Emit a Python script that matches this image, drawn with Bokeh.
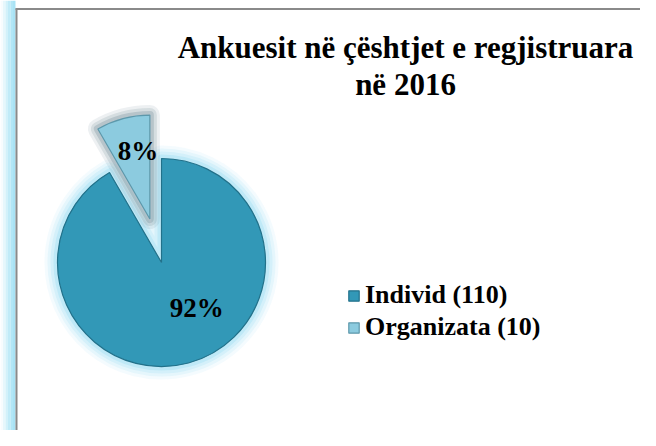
import math
from bokeh.plotting import figure
from bokeh.models import ColumnDataSource, Range1d, Legend, LegendItem
from bokeh.core.properties import value
from bokeh.embed import file_html
from bokeh.resources import INLINE

# ---- data ----
categories = ["Individ", "Organizata"]
counts = [110, 10]
title_lines = ["Ankuesit në çështjet e regjistruara", "në 2016"]

# ---- styles ----
slice_colors = ["#3298b7", "#8ccbdf"]
slice_lines = ["#22718a", "#5d98ab"]
explode = [0, 45]
FONT = "Liberation Serif"

W, H = 640, 430


def Y(py):
    return H - py


p = figure(width=W, height=H, output_backend="svg", toolbar_location=None,
           x_range=Range1d(0, W), y_range=Range1d(0, H),
           x_axis_location=None, y_axis_location=None, min_border=0)
p.grid.visible = False
p.outline_line_color = None
p.background_fill_color = "white"

# left decorative strip and frame lines
strip_cols = ["#f7fcfe", "#e6f7fc", "#d2f1fa", "#c0ebf8", "#b2e6f6", "#a9e3f5"]
n = len(strip_cols)
p.quad(left=[i * 15 / n for i in range(n)], right=[(i + 1) * 15 / n for i in range(n)],
       bottom=0, top=H, fill_color=strip_cols, line_color=None)
p.segment(x0=[16, 15], y0=[Y(8), Y(8.5)], x1=[16, W], y1=[0, Y(8.5)],
          line_color="#8a8a8a", line_width=2)

# ---- pie geometry ----
cx, cy, R = 161, Y(262), 104
total = sum(counts)
a0s, a1s, mids = [], [], []
acc = 0
for v in counts:
    a0 = math.pi / 2 - acc / total * 2 * math.pi
    a1 = a0 - v / total * 2 * math.pi
    a0s.append(a0); a1s.append(a1); mids.append((a0 + a1) / 2)
    acc += v
xs = [cx + e * math.cos(m) for e, m in zip(explode, mids)]
ys = [cy + e * math.sin(m) for e, m in zip(explode, mids)]

src = ColumnDataSource(dict(x=xs, y=ys, start=a1s, end=a0s, color=slice_colors,
                            line=slice_lines,
                            label=[f"{c} ({v})" for c, v in zip(categories, counts)]))

# glow around the big slice
big = ColumnDataSource(dict(x=xs[:1], y=ys[:1], start=a1s[:1], end=a0s[:1]))
for lw, al in [(26, 0.10), (20, 0.14), (14, 0.2), (8, 0.3)]:
    p.wedge(x="x", y="y", radius=R, start_angle="start", end_angle="end", source=big,
            fill_color=None, line_color="#8fdcf3", line_width=lw, line_alpha=al,
            line_join="round")
# shadow around the small slice
small = ColumnDataSource(dict(x=xs[1:], y=ys[1:], start=a1s[1:], end=a0s[1:]))
for lw, al in [(20, 0.10), (14, 0.15), (8, 0.22)]:
    p.wedge(x="x", y="y", radius=R, start_angle="start", end_angle="end", source=small,
            fill_color=None, line_color="#4f6f7c", line_width=lw, line_alpha=al,
            line_join="round")

r = p.wedge(x="x", y="y", radius=R, start_angle="start", end_angle="end", source=src,
            fill_color="color", line_color="line", line_width=1.2)

# percentage labels
pcts = [f"{round(v / total * 100)}%" for v in counts]
lab_r = [0.55, 0.66]
lab_a = [math.radians(-52), math.radians(100)]
lx = [x + f * R * math.cos(a) for x, f, a in zip(xs, lab_r, lab_a)]
ly = [y + f * R * math.sin(a) for y, f, a in zip(ys, lab_r, lab_a)]
p.text(x=lx, y=ly, text=pcts, text_align="center", text_baseline="middle",
       text_font=value(FONT), text_font_style="bold", text_font_size="27px",
       text_color="black")

# title
p.text(x=[405, 405], y=[Y(47), Y(84)], text=title_lines, text_align="center",
       text_baseline="middle", text_font=value(FONT), text_font_style="bold",
       text_font_size="31px", text_color="black")

legend = Legend(items=[LegendItem(label=src.data["label"][i], renderers=[r], index=i)
                       for i in range(len(categories))],
                location=(347, 88), orientation="vertical",
                label_text_font=FONT, label_text_font_style="bold",
                label_text_font_size="26px", label_text_color="black",
                glyph_width=13, glyph_height=13, label_standoff=5, spacing=2,
                padding=0, margin=0, border_line_alpha=0, background_fill_alpha=0)
p.add_layout(legend)

open("out.html", "w").write(file_html(p, INLINE))
